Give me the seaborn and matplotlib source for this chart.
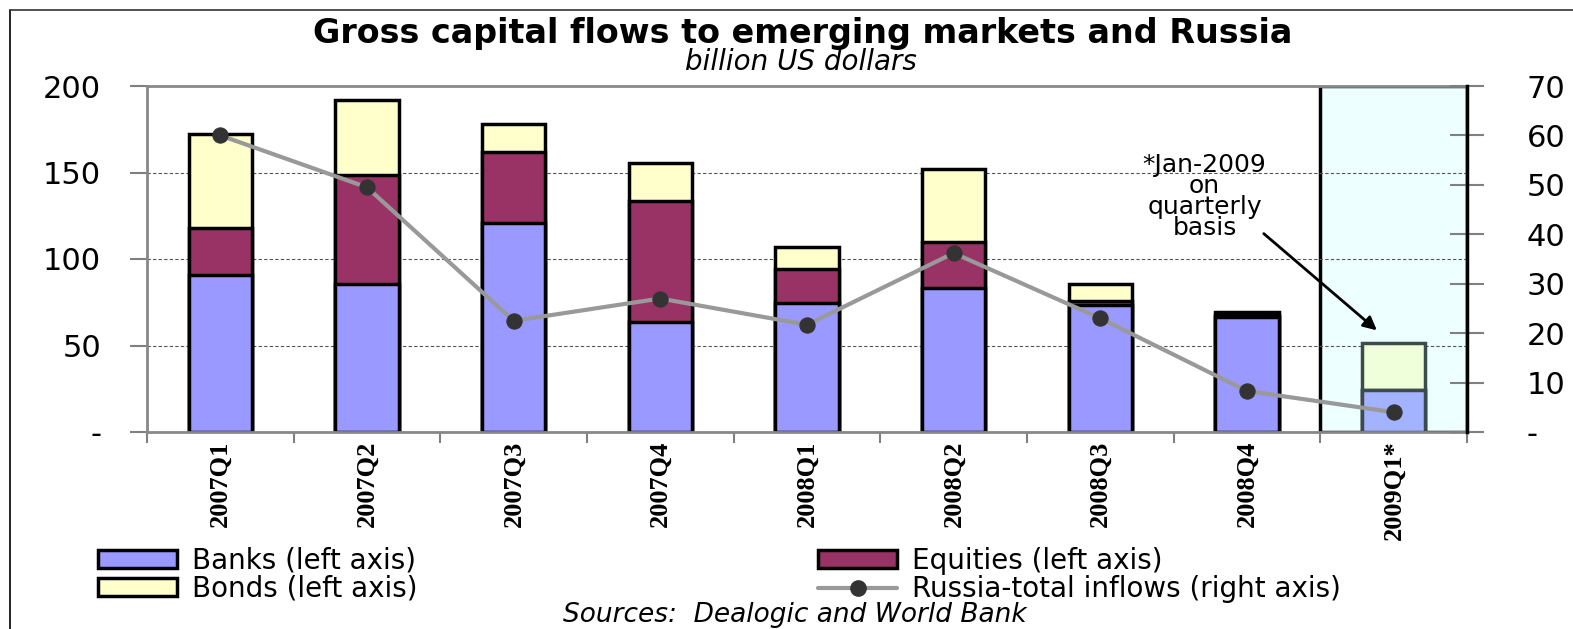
import matplotlib
matplotlib.use("Agg")
import matplotlib.pyplot as plt
import numpy as np
import seaborn as sns
from matplotlib.patches import Patch
from matplotlib.lines import Line2D

quarters = ["2007Q1", "2007Q2", "2007Q3", "2007Q4", "2008Q1", "2008Q2", "2008Q3", "2008Q4", "2009Q1*"]
banks = [91, 85.5, 121, 63.5, 74.5, 83, 73.5, 66.5, 24.5]
equities = [27, 63, 41, 70, 20, 27, 2.5, 1, 0]
bonds = [54, 43.5, 16, 22, 12.5, 42, 9.5, 2, 27]
russia = [60, 49.5, 22.5, 27, 21.7, 36.2, 23, 8.3, 4]

banks_col = "#9999FF"
equities_col = "#993366"
bonds_col = "#FFFFCC"

sns.set_style("white")
plt.rcParams["font.family"] = ["DejaVu Sans"]
plt.rcParams["text.color"] = "black"
plt.rcParams["xtick.labelcolor"] = "black"
plt.rcParams["ytick.labelcolor"] = "black"

fig = plt.figure(figsize=(15.73, 6.29), dpi=100)
ax = fig.add_axes([147 / 1573, 1 - 432 / 629, 1320 / 1573, 346 / 629])

# highlighted Jan-2009 box
ax.axvspan(7.5, 8.5, facecolor="#EEFFFF", edgecolor="black", linewidth=2.5, zorder=0.5)
for v in [50, 100, 150]:
    ax.axhline(v, color="#555555", linewidth=0.8, linestyle=(0, (3, 2)), zorder=0.8)

b_eq = np.array(banks) + np.array(equities)
total = b_eq + np.array(bonds)

# stacked bars drawn back to front
sns.barplot(x=quarters, y=total, color=bonds_col, saturation=1, width=0.43,
            edgecolor="black", linewidth=2.5, ax=ax)
ax.containers[-1][-1].set_facecolor("#EFFFD9")
ax.containers[-1][-1].set_edgecolor("#3C4B4B")
sns.barplot(x=quarters, y=b_eq, color=equities_col, saturation=1, width=0.43,
            edgecolor="black", linewidth=2.5, ax=ax)
ax.containers[-1][-1].set_facecolor("#A3B3FF")
ax.containers[-1][-1].set_edgecolor("#3C4B4B")
sns.barplot(x=quarters, y=banks, color=banks_col, saturation=1, width=0.43,
            edgecolor="black", linewidth=2.5, ax=ax)
ax.containers[-1][-1].set_facecolor("#A3B3FF")
ax.containers[-1][-1].set_edgecolor("#3C4B4B")

ax.set_xlim(-0.5, 8.5)
ax.set_ylim(0, 200)
ax.set_yticks([0, 50, 100, 150, 200])
ax.set_yticklabels(["-", "50", "100", "150", "200"])
ax.tick_params(axis="y", direction="out", length=12, width=1.5, color="#808080",
               labelsize=22, pad=21, left=True)
ax.set_xticks(np.arange(len(quarters)))
ax.set_xticklabels(quarters, rotation=90, va="top", ha="center",
                   fontfamily="Liberation Serif", fontweight="bold", fontsize=19)
ax.set_xticks(np.arange(-0.5, len(quarters), 1), minor=True)
ax.tick_params(axis="x", which="major", length=0, pad=6)
ax.tick_params(axis="x", which="minor", direction="out", length=8, width=1.5,
               color="#808080", bottom=True)
ax.set_xlabel("")
for s in ["left", "top", "bottom"]:
    ax.spines[s].set_color("#888888")
    ax.spines[s].set_linewidth(2)
ax.spines["right"].set_visible(False)

ax2 = ax.twinx()
sns.lineplot(x=np.arange(len(quarters)), y=russia, ax=ax2, color="#999999",
             linewidth=3, marker="o", markersize=11, markerfacecolor="#333333",
             markeredgecolor="#333333")
ax2.set_ylim(0, 70)
ax2.set_yticks([0, 10, 20, 30, 40, 50, 60, 70])
ax2.set_yticklabels(["-", "10", "20", "30", "40", "50", "60", "70"])
ax2.tick_params(axis="y", direction="inout", length=24, width=1.5, color="#808080",
                labelsize=22, pad=31, right=True)
ax2.set_ylabel("")
for s in ["left", "top", "bottom"]:
    ax2.spines[s].set_visible(False)
ax2.spines["right"].set_color("black")
ax2.spines["right"].set_linewidth(2.5)

ax2.text(6.71, 47.6, "*Jan-2009\non\nquarterly\nbasis", ha="center", va="center",
         fontsize=18, linespacing=0.85)
ax2.annotate("", xy=(7.9, 20.2), xytext=(7.1, 40.5),
             arrowprops=dict(arrowstyle="-|>", color="black", lw=2, mutation_scale=20))

fig.text(0.51, 1 - 33 / 629, "Gross capital flows to emerging markets and Russia",
         ha="center", va="center", fontsize=24, fontweight="bold")
fig.text(0.509, 1 - 62 / 629, "billion US dollars", ha="center", va="center",
         fontsize=20, style="italic")
fig.text(0.505, 1 - 602 / 629, "Sources:  Dealogic and World Bank", ha="center",
         va="top", fontsize=19, style="italic")

h_banks = Patch(facecolor=banks_col, edgecolor="black", linewidth=2.5)
h_bonds = Patch(facecolor=bonds_col, edgecolor="black", linewidth=2.5)
h_eq = Patch(facecolor=equities_col, edgecolor="black", linewidth=2.5)
h_ru = Line2D([], [], color="#999999", linewidth=3, marker="o", markersize=11,
              markerfacecolor="#333333", markeredgecolor="#333333")
leg_kw = dict(frameon=False, fontsize=20, handlelength=2.85, handleheight=0.62,
              handletextpad=0.55, labelspacing=0.0, borderpad=0, borderaxespad=0)
fig.legend([h_banks, h_bonds], ["Banks (left axis)", "Bonds (left axis)"],
           loc="upper left", bbox_to_anchor=(98 / 1573, 1 - 547 / 629), **leg_kw)
fig.legend([h_eq, h_ru], ["Equities (left axis)", "Russia-total inflows (right axis)"],
           loc="upper left", bbox_to_anchor=(818 / 1573, 1 - 547 / 629), **leg_kw)

# page frame lines
fig.add_artist(Line2D([10 / 1573, 10 / 1573], [0, 1 - 10 / 629], color="black", linewidth=1.2))
fig.add_artist(Line2D([10 / 1573, 1], [1 - 10 / 629, 1 - 10 / 629], color="#333333", linewidth=1.2))

fig.savefig("out.png", dpi=100)
